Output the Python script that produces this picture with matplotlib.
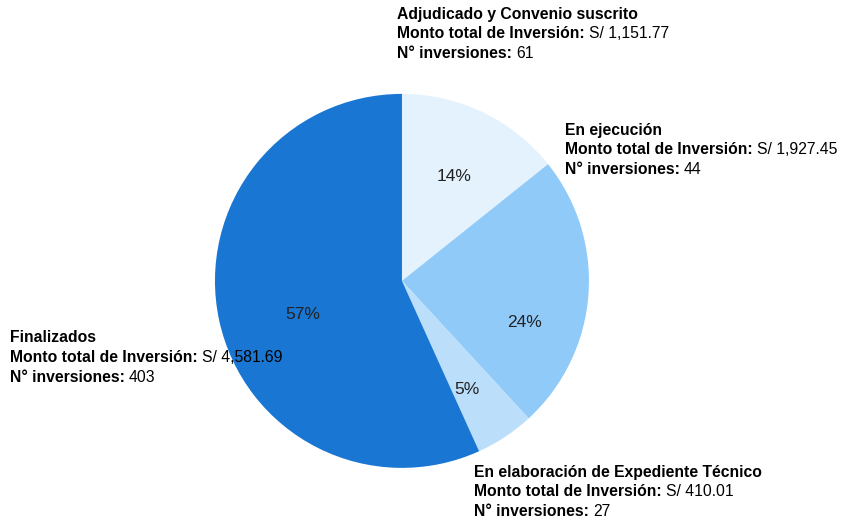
import matplotlib
matplotlib.use("Agg")
import matplotlib.pyplot as plt

# Data
estados = ["Adjudicado y Convenio suscrito", "En ejecución",
           "En elaboración de Expediente Técnico", "Finalizados"]
montos = [1151.77, 1927.45, 410.01, 4581.69]
n_inversiones = [61, 44, 27, 403]
colores = ["#e3f2fd", "#90caf9", "#bbdefb", "#1976d2"]

plt.rcParams["font.family"] = ["Liberation Sans", "DejaVu Sans"]

W, H = 841, 526
fig = plt.figure(figsize=(W / 100, H / 100), dpi=100)
ax = fig.add_axes([0.2556, 0.1105, 0.4447, 0.711])

wedges, texts, pcts = ax.pie(montos, colors=colores, startangle=90, counterclock=False,
                             autopct=lambda p: "%d%%" % round(p), pctdistance=0.66,
                             textprops={"fontsize": 12.5, "color": "#222222"})
ax.set_xlim(-1, 1)
ax.set_ylim(-1, 1)

# percentage label spots (in pie radius units)
pct_pos = [(0.278, 0.556), (0.658, -0.225), (0.348, -0.583), (-0.529, -0.182)]
for t, p in zip(pcts, pct_pos):
    t.set_position(p)

# label positions (pixels, top-left origin) of first line
label_pos = [(397, 14), (565, 130), (474, 472), (10, 338)]
renderer = fig.canvas.get_renderer()


def label(x, y, bold, normal):
    fy = 1 - y / H
    t = fig.text(x / W, fy, bold, fontsize=11.3, fontweight="bold", va="center", ha="left")
    if normal:
        bb = t.get_window_extent(renderer)
        fig.text((bb.x1 + 4) / W, fy, normal, fontsize=11.3, va="center", ha="left")


for i in range(len(estados)):
    x, y = label_pos[i]
    label(x, y, estados[i], "")
    label(x, y + 20, "Monto total de Inversión:", "S/ {:,.2f}".format(montos[i]))
    label(x, y + 40, "N° inversiones:", str(n_inversiones[i]))

fig.savefig("out.png", dpi=100)
